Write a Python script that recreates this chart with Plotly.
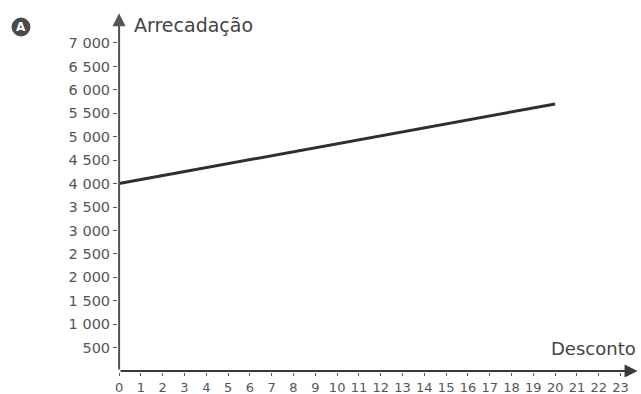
import plotly.graph_objects as go

# Data
desconto = [0, 20]
arrecadacao = [4000, 5700]
x_ticks = list(range(0, 24))
y_ticks = list(range(500, 7001, 500))
y_ticktext = [f"{v:,}".replace(",", " ") for v in y_ticks]

W, H = 641, 394
L, R, T, B = 118, 3, 13, 22
X_MIN, X_MAX = -0.05, 23.8
Y_MIN, Y_MAX = -20, 7640

FONT = "DejaVu Sans"
TICK_COLOR = "#555555"

fig = go.Figure()
fig.add_trace(go.Scatter(
    x=desconto, y=arrecadacao, mode="lines",
    line=dict(color="#2e2e2e", width=3),
    showlegend=False, hoverinfo="skip", cliponaxis=False,
))

# axis arrows
fig.add_annotation(x=X_MAX - 0.02, y=0, ax=0, ay=0, xref="x", yref="y", axref="x", ayref="y",
                   showarrow=True, arrowhead=2, arrowsize=1.3, arrowwidth=2,
                   arrowcolor="#3a3a3a", text="")
fig.add_annotation(x=0, y=Y_MAX - 5, ax=0, ay=0, xref="x", yref="y", axref="x", ayref="y",
                   showarrow=True, arrowhead=2, arrowsize=1.3, arrowwidth=2,
                   arrowcolor="#555555", text="")

PW = W - L - R
PH = H - T - B
# axis titles
fig.add_annotation(x=(132 - L) / PW, y=(H - B - 25) / PH,
                   xref="paper", yref="paper", xanchor="left", yanchor="middle",
                   text="Arrecadação", showarrow=False,
                   font=dict(family=FONT, size=19, color="#444444"))
fig.add_annotation(x=1.0, y=(H - B - 348) / PH,
                   xref="paper", yref="paper", xanchor="right", yanchor="middle",
                   text="Desconto", showarrow=False,
                   font=dict(family=FONT, size=18, color="#444444"))

# badge "A"
bx = (21 - L) / PW
by = (H - B - 27) / PH
fig.add_shape(type="circle", xref="paper", yref="paper", xsizemode="pixel", ysizemode="pixel",
              xanchor=bx, yanchor=by, x0=-9, x1=9, y0=-9, y1=9,
              fillcolor="#4a4a4a", line=dict(color="#4a4a4a", width=1))
fig.add_annotation(x=bx, y=by, xref="paper", yref="paper", text="<b>A</b>", showarrow=False,
                   font=dict(family=FONT, size=12, color="white"), xanchor="center", yanchor="middle")

fig.update_xaxes(range=[X_MIN, X_MAX], tickvals=x_ticks, ticktext=[str(v) for v in x_ticks],
                 showgrid=False, zeroline=False, showline=False, automargin=False,
                 ticks="outside", ticklen=3, tickwidth=1, tickcolor="#555555",
                 tickfont=dict(family=FONT, size=13, color=TICK_COLOR))
fig.update_yaxes(range=[Y_MIN, Y_MAX], tickvals=y_ticks, ticktext=y_ticktext,
                 showgrid=False, zeroline=False, showline=False, automargin=False,
                 ticks="outside", ticklen=4, tickwidth=1, tickcolor="#555555",
                 tickfont=dict(family=FONT, size=14.5, color=TICK_COLOR))

fig.update_layout(width=W, height=H, margin=dict(l=L, r=R, t=T, b=B),
                  plot_bgcolor="white", paper_bgcolor="white")

fig.write_html("out.html", config={"displayModeBar": False},
               post_script="document.body.style.margin='0';document.body.style.overflow='hidden';")
